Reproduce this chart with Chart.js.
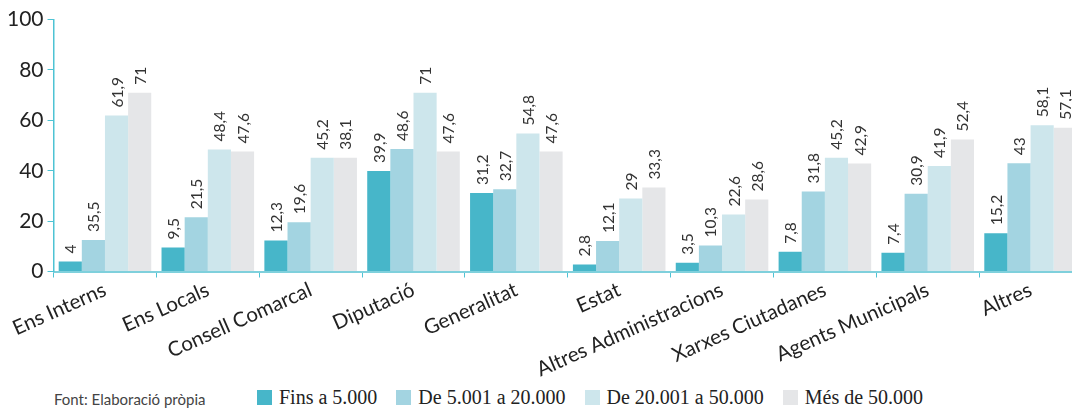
<!DOCTYPE html>
<html>
<head>
<meta charset="utf-8">
<script src="https://cdn.jsdelivr.net/npm/chart.js@4"></script>
<style>
    html, body { margin: 0; padding: 0; background: #fff; overflow: hidden; }
    #wrap { position: relative; width: 1072px; height: 408px; overflow: hidden; }
    #box { position: absolute; left: 0; top: 3px; width: 1086px; height: 379px; }
    #source { position: absolute; left: 54px; top: 390px; font: 15px Lato, sans-serif; color: #444; }
    #legend { position: absolute; left: 257px; top: 386px; display: flex; font: 20px "Liberation Serif", serif; color: #222; }
    .item { display: flex; align-items: center; margin-right: 19px; }
    .sw { width: 15px; height: 15px; margin-right: 7px; }
</style>
</head>
<body>
<div id="wrap">
    <div id="box"><canvas id="chart"></canvas></div>
    <div id="source">Font: Elaboració pròpia</div>
    <div id="legend"></div>
</div>
<script>
// categories and series
const categories = ['Ens Interns', 'Ens Locals', 'Consell Comarcal', 'Diputació', 'Generalitat',
    'Estat', 'Altres Administracions', 'Xarxes Ciutadanes', 'Agents Municipals', 'Altres'];
const seriesNames = ['Fins a 5.000', 'De 5.001 a 20.000', 'De 20.001 a 50.000', 'Més de 50.000'];
const seriesColors = ['#47b6c9', '#a3d4e1', '#cde6ec', '#e5e6e8'];

// bar heights as drawn in the picture
const finsA5000 = [4, 9.5, 12.3, 39.9, 31.2, 2.8, 3.5, 7.8, 7.4, 15.2];
const de5001a20000 = [12.5, 21.5, 19.6, 48.6, 32.7, 12.1, 10.3, 31.8, 30.9, 43];
const de20001a50000 = [61.9, 48.4, 45.2, 71, 54.8, 29, 22.6, 45.2, 41.9, 58.1];
const mesDe50000 = [71, 47.6, 45.2, 47.6, 47.6, 33.3, 28.6, 42.9, 52.4, 57.1];

// value labels printed above bars
const finsLabels = ['4', '9,5', '12,3', '39,9', '31,2', '2,8', '3,5', '7,8', '7,4', '15,2'];
const de5001Labels = ['35,5', '21,5', '19,6', '48,6', '32,7', '12,1', '10,3', '31,8', '30,9', '43'];
const de20001Labels = ['61,9', '48,4', '45,2', '71', '54,8', '29', '22,6', '45,2', '41,9', '58,1'];
const mes50000Labels = ['71', '47,6', '38,1', '47,6', '47,6', '33,3', '28,6', '42,9', '52,4', '57,1'];

const yTicks = [0, 20, 40, 60, 80, 100];

const seriesValues = [finsA5000, de5001a20000, de20001a50000, mesDe50000];
const seriesLabels = [finsLabels, de5001Labels, de20001Labels, mes50000Labels];

// rotated value labels
const barLabels = {
    id: 'barLabels',
    afterDatasetsDraw(chart) {
        const ctx = chart.ctx;
        chart.data.datasets.forEach((ds, i) => {
            const meta = chart.getDatasetMeta(i);
            meta.data.forEach((bar, j) => {
                ctx.save();
                ctx.translate(bar.x, bar.y - 8);
                ctx.rotate(-Math.PI / 2);
                ctx.font = '15.5px Lato, sans-serif';
                ctx.fillStyle = '#333';
                ctx.textAlign = 'left';
                ctx.textBaseline = 'middle';
                ctx.fillText(seriesLabels[i][j], 0, 1);
                ctx.restore();
            });
        });
    }
};

const legend = document.getElementById('legend');
seriesNames.forEach((name, i) => {
    const item = document.createElement('div');
    item.className = 'item';
    item.innerHTML = '<span class="sw" style="background:' + seriesColors[i] + '"></span>' + name;
    legend.appendChild(item);
});

const ctx = document.getElementById('chart').getContext('2d');
new Chart(ctx, {
    type: 'bar',
    data: {
        labels: categories,
        datasets: seriesNames.map((name, i) => ({
            label: name,
            data: seriesValues[i],
            backgroundColor: seriesColors[i],
            borderWidth: 0,
            categoryPercentage: 0.9,
            barPercentage: 1.0
        }))
    },
    options: {
        responsive: true,
        maintainAspectRatio: false,
        animation: false,
        layout: { padding: { top: 12, left: 3, right: 4, bottom: 0 } },
        plugins: {
            legend: { display: false },
            tooltip: { enabled: false }
        },
        scales: {
            x: {
                grid: { drawOnChartArea: false, drawTicks: true, tickLength: 6, color: '#4ec3d4', offset: true },
                border: { color: '#7fd0dc', width: 2 },
                ticks: {
                    autoSkip: false,
                    maxRotation: 24,
                    minRotation: 24,
                    padding: 0,
                    color: '#222',
                    font: { family: 'Lato, sans-serif', size: 20.5 }
                }
            },
            y: {
                min: 0,
                max: 100,
                afterBuildTicks: axis => { axis.ticks = yTicks.map(v => ({ value: v })); },
                grid: { drawOnChartArea: false, drawTicks: true, tickLength: 6, color: '#4ec3d4' },
                border: { color: '#4ec3d4', width: 1.5 },
                ticks: {
                    padding: 4,
                    color: '#222',
                    font: { family: 'Lato, sans-serif', size: 21 }
                }
            }
        }
    },
    plugins: [barLabels]
});
</script>
</body>
</html>
